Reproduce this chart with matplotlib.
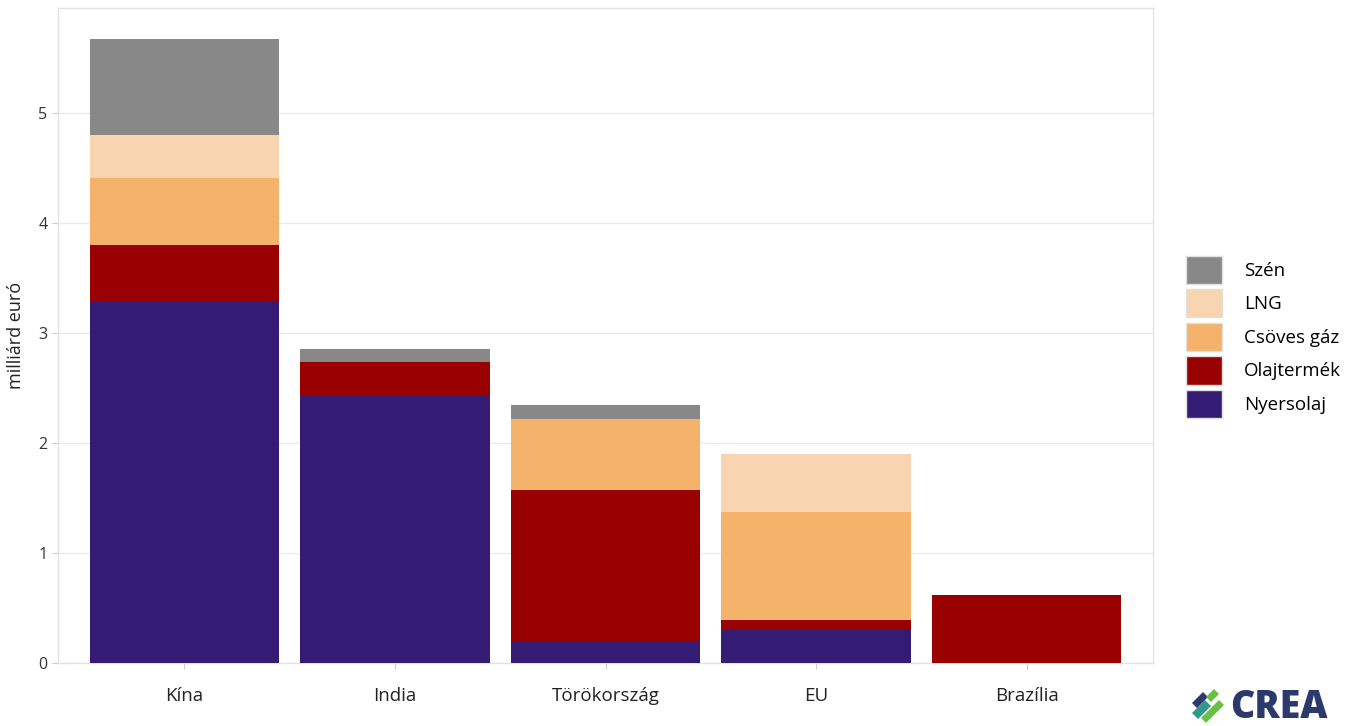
import matplotlib
matplotlib.use("Agg")
import matplotlib.pyplot as plt
from matplotlib.patches import Patch, Polygon
import numpy as np

plt.rcParams['font.family'] = ['Open Sans', 'DejaVu Sans']

countries = ["Kína", "India", "Törökország", "EU", "Brazília"]
# stacked from bottom to top
fuels = ["Nyersolaj", "Olajtermék", "Csöves gáz", "LNG", "Szén"]
nyersolaj = [3.29, 2.43, 0.19, 0.30, 0.00]
olajtermek = [0.51, 0.30, 1.38, 0.09, 0.62]
csoves_gaz = [0.61, 0.00, 0.65, 0.98, 0.00]
lng = [0.39, 0.00, 0.00, 0.53, 0.00]
szen = [0.87, 0.12, 0.12, 0.00, 0.00]
colors = ["#341c74", "#990000", "#f5b26b", "#f8d5b0", "#888888"]

series = [nyersolaj, olajtermek, csoves_gaz, lng, szen]

fig = plt.figure(figsize=(13.59, 7.26), dpi=100)
ax = fig.add_axes([58 / 1359, 1 - 663 / 726, 1095 / 1359, 655 / 726])

x = np.arange(len(countries))
bottom = np.zeros(len(countries))
for vals, col in zip(series, colors):
    ax.bar(x, vals, bottom=bottom, width=0.9, color=col, zorder=3)
    bottom += np.array(vals)

ax.set_xlim(-0.6, 4.6)
ax.set_ylim(0, 5.95)
ax.set_yticks([0, 1, 2, 3, 4, 5])
ax.set_xticks(x)
ax.set_xticklabels(countries, fontsize=13.5, color="#222222")
ax.tick_params(axis='y', labelsize=11.5, colors="#333333", length=4, color="#cccccc")
ax.tick_params(axis='x', length=4, color="#cccccc", pad=13)
ax.grid(axis='y', color="#ebebeb", linewidth=1, zorder=0)
for s in ax.spines.values():
    s.set_color("#e3e3e3")
    s.set_linewidth(1)
ax.set_ylabel("milliárd euró", fontsize=13, color="#222222", labelpad=10)

handles = [Patch(facecolor=c, edgecolor="#e0e0e0", label=f)
           for f, c in zip(fuels[::-1], colors[::-1])]
fig.legend(handles=handles, loc='upper left', bbox_to_anchor=(1178 / 1359, 1 - 248 / 726),
           frameon=False, fontsize=13.5, handlelength=1.95, handleheight=1.95,
           labelspacing=0.28, handletextpad=1.15, borderaxespad=0)

# CREA logo
fig.text(1230 / 1359, 1 - 707 / 726, "CREA", fontsize=27, fontweight='heavy',
         color="#2b3a6b", va='center', ha='left')
logo_parts = [
    ([(1192, 713), (1205, 700), (1211, 706), (1198, 719)], "#2f9a8a"),
    ([(1201, 718), (1219, 700), (1224, 705), (1206, 723)], "#6cbf45"),
    ([(1192, 703), (1203, 692), (1208, 697), (1197, 708)], "#2b3a6b"),
    ([(1206, 697), (1214, 689), (1219, 694), (1211, 702)], "#6cbf45"),
]
for pts, col in logo_parts:
    poly = Polygon([(px / 1359, 1 - py / 726) for px, py in pts], closed=True,
                   transform=fig.transFigure, facecolor=col, edgecolor='none')
    fig.patches.append(poly)

fig.savefig("out.png", dpi=100)
